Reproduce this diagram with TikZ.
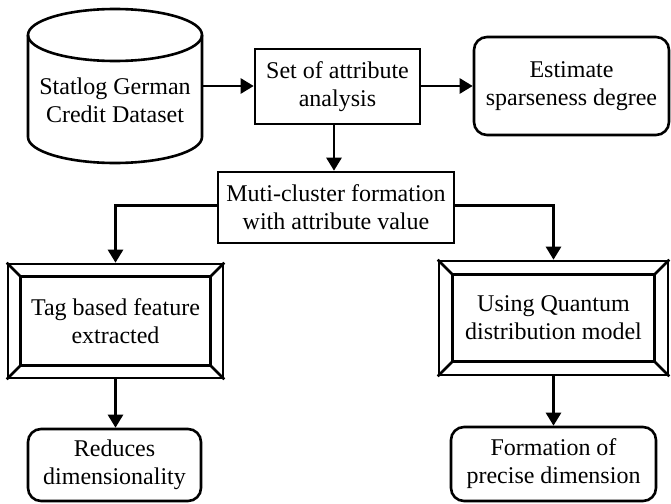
\documentclass[tikz,border=0pt]{standalone}
\usepackage{fontspec}
\setmainfont{Liberation Serif}
\usetikzlibrary{arrows.meta,calc}
\newcommand\bevelbox[2]{%
  \draw[line] ($(#1.north west)+(#2,#2)$) rectangle ($(#1.south east)+(-#2,-#2)$);
  \draw[line] (#1.north west) -- ++(#2,#2);
  \draw[line] (#1.north east) -- ++(-#2,#2);
  \draw[line] (#1.south west) -- ++(#2,-#2);
  \draw[line] (#1.south east) -- ++(-#2,-#2);
}
\begin{document}
\begin{tikzpicture}[x=1pt,y=-1pt,
  line/.style={line width=2.6pt},
  base/.style={line, draw, inner sep=0pt, align=center, font=\fontsize{24}{28}\selectfont},
  rect/.style={base, rectangle},
  rbox/.style={base, rectangle, rounded corners=13pt},
  arr/.style={line, -{Triangle[length=13pt,width=15pt]}},
]
\useasboundingbox (0,0) rectangle (671,503);
% cylinder
\draw[line, fill=white] (28,35) -- (28,137) arc[start angle=180, end angle=360, x radius=87pt, y radius=26pt] -- (202,35);
\draw[line] (115,35) ellipse [x radius=87pt, y radius=26pt];
\node[align=center, font=\fontsize{24}{28}\selectfont, inner sep=0pt] (db) at (115,100) {Statlog German\\Credit Dataset};
\coordinate (dbE) at (202,86);

\node[rect, minimum width=165pt, minimum height=75pt] (set) at (337.5,86.5) {Set of attribute\\analysis};
\node[rbox, minimum width=195pt, minimum height=98pt] (est) at (571.5,86) {Estimate\\sparseness degree};
\node[rect, minimum width=236pt, minimum height=71pt] (muti) at (336,207.5) {Muti-cluster formation\\with attribute value};
\node[rect, minimum width=215pt, minimum height=114pt] (tag) at (115.5,321) {Tag based feature\\extracted};
\bevelbox{tag}{14}
\node[rect, minimum width=229pt, minimum height=114pt] (quant) at (553.5,318) {Using Quantum\\distribution model};
\bevelbox{quant}{15}
\node[rbox, minimum width=173pt, minimum height=72pt] (red) at (114.5,465) {Reduces\\dimensionality};
\node[rbox, minimum width=205pt, minimum height=74pt] (form) at (553.5,464) {Formation of\\precise dimension};

\draw[arr] (dbE) -- (set.west |- dbE);
\draw[arr] (set.east |- dbE) -- (est.west |- dbE);
\draw[arr] ([xshift=-3.5pt]set.south) -- ([xshift=-3.5pt]set.south |- muti.north);
\draw[arr] ([yshift=2pt]muti.west) -| (tag.north);
\draw[arr] ([yshift=2pt]muti.east) -| (quant.north);
\draw[arr] (tag.south) -- (tag.south |- red.north);
\draw[arr] (quant.south) -- (quant.south |- form.north);
\end{tikzpicture}
\end{document}
